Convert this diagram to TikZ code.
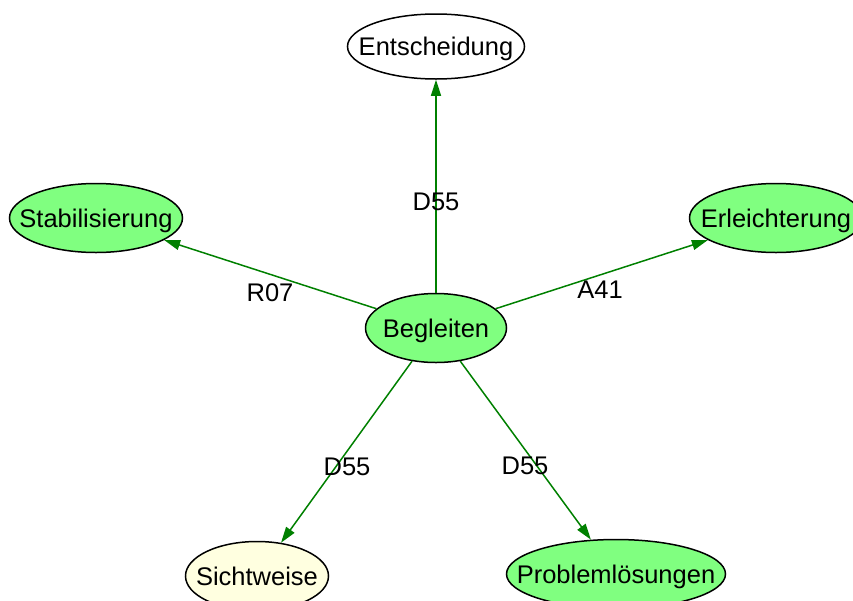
\documentclass[tikz,border=0pt]{standalone}
\usepackage{fontspec}
\setmainfont{Liberation Sans}
\usetikzlibrary{shapes.geometric,arrows.meta}
\definecolor{nodegreen}{RGB}{128,255,128}
\definecolor{nodeyellow}{RGB}{255,255,224}
\definecolor{edgegreen}{RGB}{0,128,0}
% zero width keeps each ellipse at its given size
\newcommand{\conceptlabel}[1]{\makebox[0pt]{#1}}
\tikzset{
  concept/.style={ellipse, draw=black, line width=1.5pt, inner sep=0pt,
    font=\fontsize{25.5}{29}\selectfont, text height=18.5pt, text depth=0pt},
  relation/.style={draw=edgegreen, line width=1.5pt,
    -{Triangle[length=16pt,width=10pt]}, fill=none},
  rellabel/.style={font=\fontsize{25.5}{29}\selectfont, inner sep=0pt,
    text height=18.5pt, text depth=0pt},
}
\begin{document}
\begin{tikzpicture}[x=1pt,y=-1pt]
  \useasboundingbox (0,0) rectangle (853,600);
  % concept nodes
  \node[concept, fill=white, minimum width=177pt, minimum height=65pt] (ent) at (436,46.5) {\conceptlabel{Entscheidung}};
  \node[concept, fill=nodegreen, minimum width=173pt, minimum height=69pt] (stab) at (96,218) {\conceptlabel{Stabilisierung}};
  \node[concept, fill=nodegreen, minimum width=173pt, minimum height=69pt] (erl) at (776,218) {\conceptlabel{Erleichterung}};
  \node[concept, fill=nodegreen, minimum width=141pt, minimum height=69pt] (beg) at (436,328) {\conceptlabel{Begleiten}};
  \node[concept, fill=nodeyellow, minimum width=143pt, minimum height=69pt] (sicht) at (257,576) {\conceptlabel{Sichtweise}};
  \node[concept, fill=nodegreen, minimum width=219pt, minimum height=69pt] (prob) at (616,574) {\conceptlabel{Problemlösungen}};
  % relations
  \draw[relation] (beg) -- (ent);
  \draw[relation] (beg) -- (stab);
  \draw[relation] (beg) -- (erl);
  \draw[relation] (beg) -- (sicht);
  \draw[relation] (beg) -- (prob);
  % relation labels
  \node[rellabel] (l1) at (436,201) {D55};
  \node[rellabel] (l2) at (270,292) {R07};
  \node[rellabel] (l3) at (600,289) {A41};
  \node[rellabel] (l4) at (347,466) {D55};
  \node[rellabel] (l5) at (525,465) {D55};
\end{tikzpicture}
\end{document}
